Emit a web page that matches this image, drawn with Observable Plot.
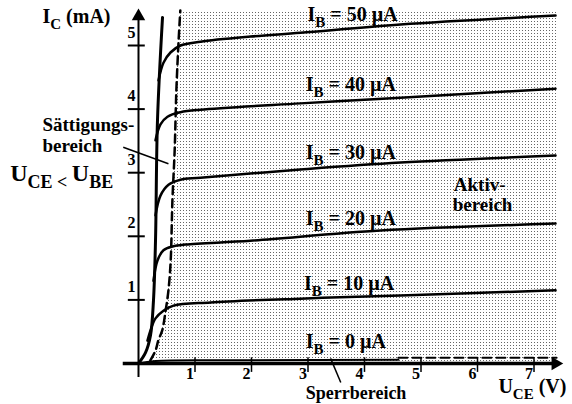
<!DOCTYPE html>
<html><head><meta charset="utf-8">
<script src="https://cdn.jsdelivr.net/npm/d3@7"></script>
<script src="https://cdn.jsdelivr.net/npm/@observablehq/plot@0.6"></script>
<style>body{margin:0;background:#fff} svg{display:block}</style>
</head><body><div id="chart"></div>
<script>
// Output characteristics: [U_CE (V), I_C (mA)]
const ib50 = [[0.354,4.45],[0.442,4.73],[0.566,4.89],[0.743,5.00],[1.097,5.06],[1.982,5.14],[2.867,5.20],[4.637,5.33],[7.381,5.47]];
const ib40 = [[0.301,3.51],[0.389,3.76],[0.513,3.88],[0.743,3.95],[1.097,3.99],[2.867,4.09],[4.637,4.18],[7.381,4.32]];
const ib30 = [[0.301,2.33],[0.389,2.64],[0.531,2.81],[0.743,2.89],[1.097,2.92],[2.867,3.05],[4.637,3.16],[7.381,3.27]];
const ib20 = [[0.265,1.30],[0.336,1.62],[0.442,1.78],[0.602,1.84],[0.832,1.87],[1.982,1.93],[4.283,2.09],[7.381,2.20]];
const ib10 = [[0.159,0.36],[0.212,0.52],[0.301,0.71],[0.442,0.83],[0.619,0.91],[1.274,0.96],[2.867,1.02],[4.637,1.07],[7.381,1.15]];
const ib0 = [[0,0],[0.3,0.04],[2.0,0.05],[4.6,0.06]];
const cutoffEdge = [[4.6,0.09],[7.4,0.09]];
const saturation = [[0,0],[0.124,0.17],[0.212,0.44],[0.265,0.99],[0.301,1.93],[0.336,3.82],[0.425,5.44]];
const boundary = [[0.21,0.05],[0.30,0.2],[0.35,0.36],[0.42,0.52],[0.48,0.83],[0.53,1.15],[0.57,1.62],[0.60,2.56],[0.64,3.35],[0.67,4.29],[0.71,5.08],[0.74,5.55]];
const activeRight = 7.42;
const ibValues = [50,40,30,20,10];
const ibCurves = [ib50, ib40, ib30, ib20, ib10];
const yTicks = [1,2,3,4,5];
const xTicks = [1,2,3,4,5,6,7];

const curveRows = ibCurves.flatMap((c,i) => c.map(([v,ma]) => ({ib: ibValues[i], v, ma})));
const areaRows = [{y:0, x1:0.19, x2:activeRight}, ...boundary.map(([v,ma]) => ({y:ma, x1:v, x2:activeRight}))];
const pts = a => a.map(([v,ma]) => ({v, ma}));

const labels = [
  {x:2.99, y:5.39, t:"I_{B} = 50 µA", s:20},
  {x:2.96, y:4.29, t:"I_{B} = 40 µA", s:20},
  {x:2.96, y:3.22, t:"I_{B} = 30 µA", s:20},
  {x:2.96, y:2.17, t:"I_{B} = 20 µA", s:20},
  {x:2.93, y:1.16, t:"I_{B} = 10 µA", s:20},
  {x:2.96, y:0.25, t:"I_{B} = 0 µA", s:20},
  {x:-1.70, y:5.36, t:"I_{C} (mA)", s:20},
  {x:-1.70, y:3.65, t:"Sättigungs-", s:19},
  {x:-1.70, y:3.32, t:"bereich", s:19},
  {x:-2.27, y:2.87, t:"U_{CE < }U_{BE}", s:24},
  {x:5.58, y:2.72, t:"Aktiv-", s:19},
  {x:5.56, y:2.39, t:"bereich", s:19},
  {x:2.96, y:-0.56, t:"Sperrbereich", s:18},
  {x:6.37, y:-0.47, t:"U_{CE} (V)", s:20}
];
const leaders = [
  {x1:-0.27, y1:3.40, x2:0.53, y2:3.14},
  {x1:3.40, y1:0.08, x2:3.58, y2:-0.30}
];

const font = "Liberation Serif";
const plot = Plot.plot({
  width: 572, height: 404, margin: 0,
  x: {domain:[0,7.6], range:[138, 138+7.6*56.5], axis:null},
  y: {domain:[0,5.6], range:[363, 363-5.6*63.6], axis:null},
  marks: [
    Plot.areaX(areaRows, {y:"y", x1:"x1", x2:"x2", curve:"catmull-rom", fill:"url(#dots)"}),
    Plot.ruleX([0], {y1:-0.22, y2:5.4, strokeWidth:2, stroke:"black"}),
    Plot.ruleY([0], {x1:-0.27, x2:7.36, strokeWidth:3.5, stroke:"black"}),
    Plot.ruleY(yTicks, {x1:-0.18, x2:0.12, strokeWidth:2, stroke:"black"}),
    Plot.ruleX(xTicks, {y1:-0.14, y2:0.09, strokeWidth:1.5, stroke:"black"}),
    Plot.line(curveRows, {x:"v", y:"ma", z:"ib", curve:"catmull-rom", stroke:"black", strokeWidth:2.5}),
    Plot.line(pts(ib0), {x:"v", y:"ma", curve:"catmull-rom", stroke:"black", strokeWidth:2}),
    Plot.line(pts(cutoffEdge), {x:"v", y:"ma", stroke:"black", strokeWidth:2, strokeDasharray:"9,5"}),
    Plot.line(pts(saturation), {x:"v", y:"ma", curve:"catmull-rom", stroke:"black", strokeWidth:3}),
    Plot.line(pts(boundary), {x:"v", y:"ma", curve:"catmull-rom", stroke:"black", strokeWidth:2.5, strokeDasharray:"8,5"}),
    Plot.dot([{v:0, ma:5.46}], {x:"v", y:"ma", symbol:"triangle", r:5, fill:"black", stroke:null}),
    Plot.dot([{v:7.38, ma:0}], {x:"v", y:"ma", symbol:"triangle", r:5, fill:"black", stroke:null, rotate:90}),
    Plot.link(leaders, {x1:"x1", y1:"y1", x2:"x2", y2:"y2", stroke:"black", strokeWidth:1.5}),
    Plot.text(yTicks, {x:0, y:d=>d, text:d=>String(d), textAnchor:"end", lineAnchor:"bottom", dx:-3, dy:-8, fontSize:16, fontWeight:"bold", fontFamily:font}),
    Plot.text(xTicks, {x:d=>d, y:0, text:d=>String(d), textAnchor:"end", lineAnchor:"bottom", dx:-1, dy:15, fontSize:16, fontWeight:"bold", fontFamily:font}),
    Plot.text(labels, {x:"x", y:"y", text:"t", fontSize:"s", textAnchor:"start", lineAnchor:"bottom", fontWeight:"bold", fontFamily:font})
  ]
});
document.getElementById("chart").appendChild(plot);

// dot pattern for the shaded (active) region
const ns = "http://www.w3.org/2000/svg";
const defs = document.createElementNS(ns, "defs");
defs.innerHTML = '<pattern id="dots" width="3" height="3" patternUnits="userSpaceOnUse"><rect x="0" y="0" width="1" height="1" fill="#666"/></pattern>';
plot.insertBefore(defs, plot.firstChild);

// subscripts: X_{sub}
plot.querySelectorAll("text").forEach(t => {
  const s = t.textContent;
  if (!s.includes("_{")) return;
  const fs = parseFloat(t.getAttribute("font-size")) || parseFloat(getComputedStyle(t).fontSize) || 20;
  t.textContent = "";
  const parts = s.split(/(_\{[^}]*\})/).filter(p => p);
  let lowered = false;
  for (const p of parts) {
    const ts = document.createElementNS(ns, "tspan");
    if (p.startsWith("_{")) {
      ts.textContent = p.slice(2, -1);
      ts.setAttribute("font-size", (fs*0.75) + "px");
      ts.setAttribute("dy", (fs*0.3) + "px");
      lowered = true;
    } else {
      ts.textContent = p;
      if (lowered) ts.setAttribute("dy", (-fs*0.3) + "px");
      lowered = false;
    }
    t.appendChild(ts);
  }
});
</script>
</body></html>
